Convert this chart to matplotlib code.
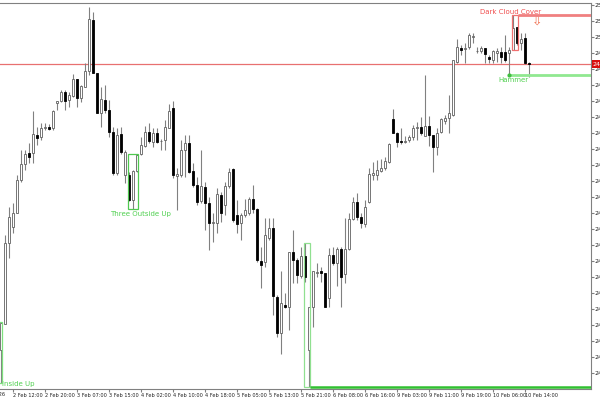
import numpy as np
import matplotlib
matplotlib.use("Agg")
import matplotlib.pyplot as plt
from matplotlib.patches import Rectangle
from matplotlib.transforms import blended_transform_factory

# hourly bars, 2 Feb - 10 Feb
opens = [2422.5, 2429, 2449.25, 2453.25, 2456.75, 2465, 2469, 2471.75, 2471.75, 2476.25,
         2475.75, 2478, 2478.25, 2478, 2484.25, 2484.75, 2487, 2485, 2486, 2490.25,
         2485.5, 2488.25, 2492.25, 2505, 2491.75, 2481.75, 2485, 2482.5, 2477, 2466.75,
         2476.5, 2466.25, 2466.25, 2460, 2467.25, 2471.5, 2473.5, 2477, 2474.5, 2476.75,
         2474.75, 2475, 2478, 2483, 2466, 2466.25, 2472.5, 2474.25, 2467.25, 2463.75,
         2459.75, 2463.25, 2459.25, 2454.25, 2454.25, 2461.25, 2458.75, 2463.5, 2467.75, 2456.25,
         2454.25, 2456.25, 2456.75, 2460.25, 2457.75, 2444.75, 2444.5, 2450.5, 2453, 2435.75,
         2426.75, 2433.75, 2433.25, 2447, 2445, 2441, 2446, 2422.5, 2433.25, 2441.75,
         2442.25, 2441.75, 2435.5, 2446.25, 2444.25, 2447.75, 2441.5, 2447.75, 2455.25, 2459.5,
         2455.75, 2454, 2459.5, 2466.25, 2466.25, 2467.25, 2468, 2469.5, 2480.25, 2476.75,
         2474.75, 2474.5, 2475, 2475.75, 2478, 2478.25, 2476, 2478.5, 2476.25, 2473.25,
         2477, 2479.75, 2480.5, 2481.25, 2494.5, 2498, 2497.75, 2498.25, 2500.75, 2497.25,
         2497.25, 2498, 2495.75, 2495, 2496.75, 2497, 2497, 2496.75, 2497.5, 2503.25,
         2499.25, 2500.5, 2494.25]
highs = [2429.5, 2451.25, 2458.25, 2459.25, 2466.25, 2472.5, 2472.5, 2474.25, 2482.25, 2478.25,
         2479.25, 2479.25, 2479, 2482.5, 2484.75, 2487.5, 2487.5, 2487, 2491.5, 2490.25,
         2488.75, 2494.25, 2508.25, 2507, 2491.75, 2488.25, 2488.75, 2485, 2478.25, 2478,
         2478.25, 2472.5, 2467, 2467.5, 2471.5, 2475.75, 2478.5, 2479.25, 2478, 2478,
         2475.25, 2480, 2484, 2484.75, 2468, 2475, 2476.25, 2476.25, 2469.25, 2465.75,
         2472.5, 2464.5, 2460.75, 2456.75, 2463, 2462, 2464.5, 2468, 2468, 2460,
         2456.75, 2460.25, 2460.75, 2463.75, 2458, 2448.25, 2455.5, 2455.5, 2455.5, 2436.25,
         2442.25, 2436.75, 2447, 2452.5, 2445.5, 2448.25, 2449.25, 2433.25, 2442.25, 2444.25,
         2443.25, 2441.75, 2448, 2448.25, 2448.25, 2448.25, 2455.5, 2456.75, 2460.75, 2461.75,
         2456.75, 2460, 2468, 2469.5, 2470, 2470.25, 2470.75, 2474.25, 2482.75, 2477,
         2478, 2476, 2476.25, 2478.75, 2479.5, 2480.75, 2491.25, 2481, 2476.25, 2478,
         2480.5, 2481.25, 2486.25, 2495, 2500.25, 2498.75, 2499.25, 2501.75, 2501.75, 2498.25,
         2498.5, 2498, 2496.25, 2497.5, 2498, 2498.25, 2501.25, 2498.25, 2506.25, 2503.25,
         2501.75, 2501.75, 2494.5]
lows = [2414.25, 2429, 2445.5, 2451.75, 2456.75, 2464.5, 2467.5, 2469.25, 2469.25, 2473.75,
        2475, 2477.5, 2477.5, 2477.5, 2482.5, 2484.5, 2482.5, 2483.25, 2485.75, 2483.25,
        2484.5, 2488.25, 2491.25, 2491.75, 2481.75, 2478.25, 2481.75, 2475.75, 2466.25, 2466.25,
        2471.5, 2464.25, 2459.75, 2457.75, 2467, 2471.25, 2473.25, 2474.25, 2473.25, 2474.25,
        2472.5, 2472.5, 2478, 2465.5, 2457.5, 2465.75, 2465.75, 2466.75, 2463.25, 2458.75,
        2459.25, 2452.5, 2447.5, 2449.5, 2451.75, 2454.5, 2456.25, 2463, 2454.5, 2451.75,
        2450, 2455.75, 2456.25, 2456.75, 2444.5, 2438, 2443.25, 2450, 2431.25, 2425.75,
        2421.5, 2433, 2427.5, 2439.25, 2439.25, 2440.5, 2439.5, 2413.25, 2428.25, 2440.75,
        2439.5, 2433.25, 2433.25, 2443.75, 2438.5, 2433.25, 2439.25, 2447.5, 2455, 2455,
        2453, 2453.25, 2459.25, 2465, 2465, 2467, 2467.5, 2469.25, 2476.75, 2473.25,
        2474, 2474.25, 2474.5, 2475, 2475, 2476.25, 2476, 2473.5, 2467, 2471.25,
        2476.75, 2479, 2476.75, 2481, 2494.25, 2496.25, 2494.25, 2497.75, 2499.25, 2496.75,
        2496.75, 2494.25, 2494.25, 2494.25, 2494.5, 2494.25, 2494.5, 2491.25, 2497.5, 2498.75,
        2497.5, 2494, 2490.75]
closes = [2429.25, 2449.25, 2455.75, 2456.75, 2465, 2469, 2471.5, 2470.75, 2476.5, 2475.5,
          2478, 2478.25, 2477.75, 2482.25, 2484.75, 2487, 2484.75, 2486.25, 2490.25, 2485.5,
          2488.5, 2492.25, 2505.25, 2491.75, 2481.75, 2485.25, 2482.5, 2477, 2466.75, 2476.25,
          2472, 2472, 2460, 2467.25, 2471.25, 2473.75, 2477, 2474.75, 2476.75, 2474.5,
          2474.75, 2478.25, 2482.25, 2466.25, 2466.5, 2472.5, 2474.25, 2467, 2463.75, 2459.5,
          2463.5, 2459.25, 2454.25, 2454.5, 2461.5, 2456.75, 2463.5, 2467, 2455, 2454,
          2456.25, 2457.5, 2460.25, 2457.75, 2445, 2443.75, 2451.25, 2453, 2436, 2426.75,
          2434.25, 2433.25, 2447, 2445, 2441.25, 2446, 2440.75, 2433.25, 2442.25, 2442,
          2441.75, 2433.25, 2446.25, 2444.25, 2447.75, 2440.75, 2447.75, 2455.25, 2459.5, 2455.75,
          2454.25, 2458.25, 2466.5, 2466.75, 2467.5, 2468, 2469.75, 2474, 2476.75, 2474.5,
          2474.5, 2474.75, 2475.75, 2478, 2478.25, 2476.75, 2478.5, 2476.25, 2473.25, 2476.75,
          2480.25, 2480.5, 2481.75, 2495, 2498.25, 2497.5, 2498, 2501.25, 2501, 2497.25,
          2498, 2496.5, 2495.25, 2497.25, 2497.25, 2495.75, 2495, 2497.5, 2503, 2499.25,
          2500.25, 2494.25, 2494]

time_ticks = [3, 11, 19, 27, 35, 43, 51, 59, 67, 75, 83, 91, 99, 107, 115, 123, 131]
time_labels = ["2 Feb 12:00", "2 Feb 20:00", "3 Feb 07:00", "3 Feb 15:00", "4 Feb 02:00",
               "4 Feb 10:00", "4 Feb 18:00", "5 Feb 05:00", "5 Feb 13:00", "5 Feb 21:00",
               "6 Feb 08:00", "6 Feb 16:00", "9 Feb 03:00", "9 Feb 11:00", "9 Feb 19:00",
               "10 Feb 06:00", "10 Feb 14:00"]

o = np.array(opens)
h = np.array(highs)
l = np.array(lows)
c = np.array(closes)
x = np.arange(len(o))
up = c >= o

small_font = ["Liberation Sans Narrow", "DejaVu Sans"]

fig = plt.figure(figsize=(6, 4), dpi=100)
ax = fig.add_axes([0, 1 - 389 / 400, 591 / 600, 386.5 / 400])
ax.set_xlim(-0.25, 147.5)
ax.set_ylim(2412.75, 2509.375)

grey = "#808080"
ax.vlines(x, l, h, color=grey, lw=0.8, zorder=2)
ax.bar(x[up], c[up] - o[up], bottom=o[up], width=0.7, color="white",
       edgecolor="#606060", lw=0.6, zorder=3)
ax.bar(x[~up], o[~up] - c[~up], bottom=c[~up], width=0.7, color="black",
       edgecolor="black", lw=0.6, zorder=3)

# current price line
last = c[-1]
ax.axhline(last, color="#e87070", lw=0.9, zorder=1)
tr = blended_transform_factory(ax.transAxes, ax.transData)
ax.text(1.003, last, f"{last:.2f}", transform=tr, ha="left", va="center",
        fontsize=4.5, color="white", clip_on=False,
        bbox=dict(boxstyle="square,pad=0.2", fc="#d81010", ec="none"))

def box(i0, i1, color):
    lo = l[max(i0, 0):i1 + 1].min()
    hi = h[max(i0, 0):i1 + 1].max()
    ax.add_patch(Rectangle((i0 - 0.25, lo), i1 - i0 + 0.5, hi - lo, fill=False,
                           ec=color, lw=0.9, zorder=4))

green_txt = "#50d050"
# Inside Up
box(-1, 0, "#7ee07e")
ax.text(0.3, 2413.9, "Inside Up", fontsize=5, color=green_txt, ha="left", va="center")
# Three Outside Up
box(32, 34, "#50c850")
ax.text(35, 2456.6, "Three Outside Up", fontsize=5, color=green_txt, ha="center", va="center")
# Piercing box + line
box(76, 77, "#90e090")
ax.hlines(l[77], 77.25, 147.5, color="#30c030", lw=1.8, zorder=4)
# Hammer
ax.hlines(l[127], 127, 147.5, color="#90e890", lw=2, zorder=4)
ax.plot([127], [l[127]], "o", color="#40c040", ms=2, zorder=5)
ax.text(128, 2490.0, "Hammer", fontsize=5, color=green_txt, ha="center", va="center")
# Dark Cloud Cover
box(128, 129, "#f07070")
ax.hlines(h[128], 129.25, 147.5, color="#f08080", lw=2, zorder=4)
ax.text(127.5, 2507.0, "Dark Cloud Cover", fontsize=5, color="#f05050", ha="center", va="center")
ax.text(134, 2504.4, "\u21e9", fontsize=9, color="#f07050", ha="center", va="center")

# axes styling
for s in ["top", "bottom", "right"]:
    ax.spines[s].set_color(grey)
ax.spines["left"].set_visible(False)
ax.yaxis.tick_right()
ax.set_yticks(np.arange(2416.75, 2509, 4))
ax.set_yticklabels([f"{v:.2f}" for v in np.arange(2416.75, 2509, 4)])
ax.tick_params(axis="y", length=2, color=grey, labelsize=4.5, pad=0.4, labelcolor="#202020")
ax.set_xticks(time_ticks)
ax.set_xticklabels(time_labels, family=small_font)
ax.tick_params(axis="x", length=2, color=grey, labelsize=3.6, pad=1, labelcolor="#202020")
for lab in ax.get_xticklabels():
    lab.set_ha("left")
ax.text(1.0, -0.008, "2 Feb 2026", transform=blended_transform_factory(ax.transData, ax.transAxes),
        fontsize=3.6, family=small_font, ha="right", va="top", color="#202020", clip_on=False)

fig.savefig("out.png", dpi=100)
